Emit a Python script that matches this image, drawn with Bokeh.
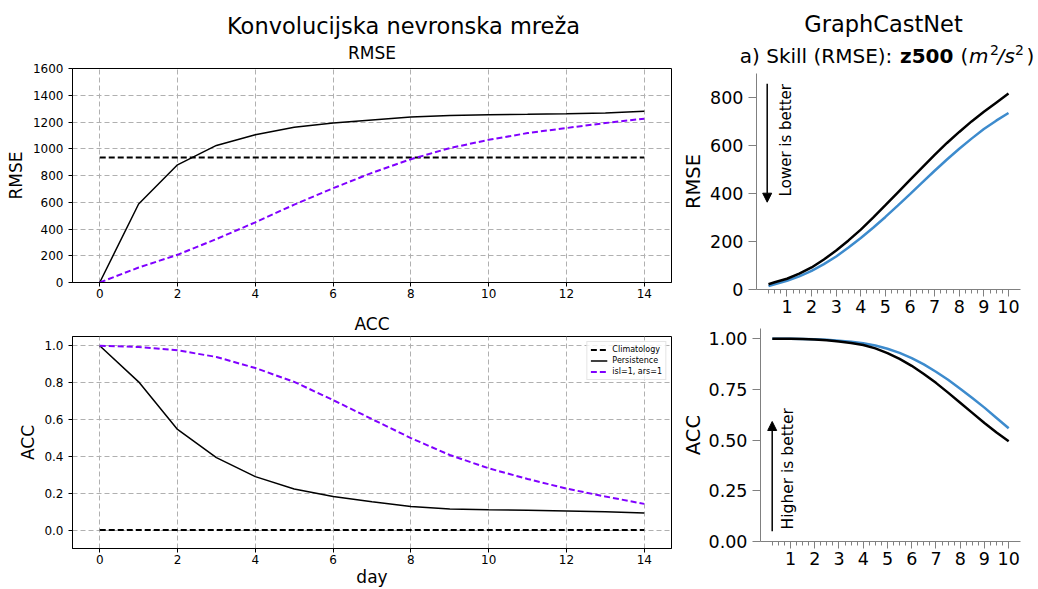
import math
from bokeh.plotting import figure
from bokeh.layouts import row, column
from bokeh.models import Range1d, FixedTicker, Label, Arrow, NormalHead, PrintfTickFormatter
from bokeh.embed import file_html
from bokeh.resources import INLINE

FONT = "DejaVu Sans"

# ---------------- data: left (CNN) ----------------
cnn_days = [0, 1, 2, 3, 4, 5, 6, 7, 8, 9, 10, 11, 12, 13, 14]
cnn_rmse_climatology = [935, 935, 935, 935, 935, 935, 935, 935, 935, 935, 935, 935, 935, 935, 935]
cnn_rmse_persistence = [0, 587, 880, 1025, 1105, 1160, 1192, 1215, 1237, 1248, 1255, 1258, 1262, 1268, 1280]
cnn_rmse_isl1_ars1 = [0, 112, 207, 325, 450, 582, 705, 820, 922, 1005, 1067, 1117, 1155, 1192, 1225]
cnn_acc_climatology = [0.0, 0.0, 0.0, 0.0, 0.0, 0.0, 0.0, 0.0, 0.0, 0.0, 0.0, 0.0, 0.0, 0.0, 0.0]
cnn_acc_persistence = [1.0, 0.804, 0.546, 0.393, 0.290, 0.223, 0.182, 0.153, 0.128, 0.114, 0.110, 0.107, 0.103, 0.099, 0.092]
cnn_acc_isl1_ars1 = [1.0, 0.993, 0.975, 0.939, 0.879, 0.804, 0.705, 0.602, 0.499, 0.407, 0.335, 0.277, 0.225, 0.182, 0.142]

cnn_xticks = [0, 2, 4, 6, 8, 10, 12, 14]
cnn_rmse_yticks = [0, 200, 400, 600, 800, 1000, 1200, 1400, 1600]
cnn_acc_yticks = [0.0, 0.2, 0.4, 0.6, 0.8, 1.0]

# ---------------- data: right (GraphCast) ----------------
gc_days = [0.25, 0.5, 1, 1.5, 2, 2.5, 3, 3.5, 4, 4.5, 5, 5.5, 6, 6.5, 7, 7.5, 8, 8.5, 9, 9.5, 10]
gc_rmse_black = [22, 30, 45, 66, 92, 125, 163, 205, 250, 300, 352, 405, 458, 510, 562, 612, 658, 702, 742, 780, 818]
gc_rmse_blue = [14, 22, 36, 55, 78, 106, 138, 175, 215, 258, 303, 350, 398, 447, 496, 543, 588, 630, 670, 705, 737]
gc_acc_black = [1.0, 1.0, 0.999, 0.998, 0.996, 0.992, 0.986, 0.979, 0.969, 0.952, 0.929, 0.900, 0.866, 0.826,
                0.782, 0.734, 0.684, 0.634, 0.584, 0.537, 0.494]
gc_acc_blue = [1.0, 1.0, 0.999, 0.998, 0.997, 0.994, 0.990, 0.985, 0.977, 0.966, 0.950, 0.930, 0.904, 0.873,
               0.837, 0.797, 0.753, 0.707, 0.660, 0.609, 0.558]

gc_xticks = [1, 2, 3, 4, 5, 6, 7, 8, 9, 10]
gc_xminor = [q / 4 for q in range(1, 41)]
gc_rmse_yticks = [0, 200, 400, 600, 800]
gc_acc_yticks = [0.0, 0.25, 0.5, 0.75, 1.0]

PURPLE = "#8000ff"
BLUE = "#3d8bcd"
GREY = "#808080"

# ranges
L_XR = (-0.7, 14.7)
TL_YR = (0, 1600)
BL_YR = (-0.1, 1.05)
R_XR = (-0.2375, 10.4875)
TR_YR = (0, 902)
BR_YR = (0, 1.05)


def no_align(p):
    if "frame_align" in p.properties():
        p.frame_align = False
    return p


def base_fig(w, h, xr, yr, bl, br, bt, bb):
    p = figure(width=w, height=h, x_range=Range1d(*xr), y_range=Range1d(*yr),
               output_backend="svg", toolbar_location=None, title=None,
               min_border_left=bl, min_border_right=br, min_border_top=bt, min_border_bottom=bb)
    p.background_fill_color = "white"
    p.border_fill_color = "white"
    return no_align(p)


def header_fig(w, h):
    # empty panel used only to hold title texts (pixel coordinates, y downward)
    p = figure(width=w, height=h, x_range=Range1d(0, w), y_range=Range1d(h, 0),
               x_axis_type=None, y_axis_type=None, output_backend="svg",
               toolbar_location=None, title=None,
               min_border_left=0, min_border_right=0, min_border_top=0, min_border_bottom=0)
    p.outline_line_color = None
    p.background_fill_color = "white"
    p.border_fill_color = "white"
    p.xgrid.visible = False
    p.ygrid.visible = False
    return no_align(p)


def px(p_fw, p_fh, xr, yr, fx, fy):
    return (xr[0] + fx * (xr[1] - xr[0]) / p_fw, yr[0] + fy * (yr[1] - yr[0]) / p_fh)


def add_label(p, text, x, y, size, style="normal", align="center", baseline="middle", angle=0.0):
    p.add_layout(Label(x=x, y=y, text=text, text_font=FONT, text_font_size=f"{size}px",
                       text_font_style=style, text_align=align, text_baseline=baseline,
                       angle=angle, text_color="black"))


def add_title_text(p, text, x, y_base, size, style="normal", align="center"):
    # y_base: wanted baseline (pixels from top); label is centred on its text box
    add_label(p, text, x, y_base - 0.346 * size, size, style=style, align=align, baseline="middle")


def style_left(p, yticks, yfmt, ylabel, xlabel=None, ystand=4):
    p.outline_line_color = "black"
    p.outline_line_width = 1
    for ax in (p.xaxis[0], p.yaxis[0]):
        ax.axis_line_color = "black"
        ax.major_tick_line_color = "black"
        ax.major_tick_out = 4
        ax.major_tick_in = 0
        ax.minor_tick_line_color = None
        ax.major_label_text_font = FONT
        ax.major_label_text_font_size = "12px"
        ax.major_label_text_color = "black"
        ax.axis_label_text_font = FONT
        ax.axis_label_text_font_size = "17px"
        ax.axis_label_text_font_style = "normal"
        ax.axis_label_text_color = "black"
    p.xaxis.ticker = FixedTicker(ticks=cnn_xticks)
    p.yaxis.ticker = FixedTicker(ticks=yticks)
    if yfmt:
        p.yaxis.formatter = PrintfTickFormatter(format=yfmt)
    p.xaxis.major_label_standoff = 2
    p.yaxis.major_label_standoff = 5
    p.yaxis.axis_label = ylabel
    p.yaxis.axis_label_standoff = ystand
    if xlabel:
        p.xaxis.axis_label = xlabel
        p.xaxis.axis_label_standoff = 0
    for g in (p.xgrid, p.ygrid):
        g.grid_line_color = "#b0b0b0"
        g.grid_line_dash = "5 3"
        g.grid_line_width = 1


def style_right(p, yticks, yfmt, ylabel, ystand):
    p.outline_line_color = None
    p.xgrid.visible = False
    p.ygrid.visible = False
    for ax in (p.xaxis[0], p.yaxis[0]):
        ax.axis_line_color = GREY
        ax.axis_line_width = 1
        ax.major_tick_line_color = GREY
        ax.minor_tick_line_color = GREY
        ax.major_tick_in = 0
        ax.minor_tick_in = 0
        ax.major_label_text_font = FONT
        ax.major_label_text_font_size = "17.5px"
        ax.major_label_text_color = "black"
        ax.axis_label_text_font = FONT
        ax.axis_label_text_font_size = "19.5px"
        ax.axis_label_text_font_style = "normal"
        ax.axis_label_text_color = "black"
    p.xaxis.ticker = FixedTicker(ticks=gc_xticks, minor_ticks=gc_xminor)
    p.xaxis.major_tick_out = 7
    p.xaxis.minor_tick_out = 4
    p.xaxis.major_label_standoff = 3
    p.yaxis.ticker = FixedTicker(ticks=yticks)
    p.yaxis.minor_tick_line_color = None
    p.yaxis.major_tick_out = 8
    p.yaxis.major_label_standoff = 5
    if yfmt:
        p.yaxis.formatter = PrintfTickFormatter(format=yfmt)
    p.yaxis.axis_label = ylabel
    p.yaxis.axis_label_standoff = ystand


LW, RW = 676, 362

# ---------------- left header ----------------
hdr_l = header_fig(LW, 63)
add_title_text(hdr_l, "Konvolucijska nevronska mreža", 403, 33, 22.5)
add_title_text(hdr_l, "RMSE", 371.5, 58.5, 17)

# ---------------- top-left: RMSE ----------------
TL_H, TL_BL, TL_BR, TL_BT, TL_BB = 243, 72, 5, 5, 24
tl = base_fig(LW, TL_H, L_XR, TL_YR, TL_BL, TL_BR, TL_BT, TL_BB)
style_left(tl, cnn_rmse_yticks, None, "RMSE", ystand=4)
tl.line(cnn_days, cnn_rmse_climatology, color="black", line_width=2, line_dash="6 3")
tl.line(cnn_days, cnn_rmse_persistence, color="black", line_width=1.5)
tl.line(cnn_days, cnn_rmse_isl1_ars1, color=PURPLE, line_width=2, line_dash="6 3")

# ---------------- ACC header ----------------
hdr_acc = header_fig(LW, 29)
add_title_text(hdr_acc, "ACC", 371.5, 23, 17)

# ---------------- bottom-left: ACC ----------------
BL_H, BL_BL, BL_BR, BL_BT, BL_BB = 254, 72, 5, 1, 40
bl = base_fig(LW, BL_H, L_XR, BL_YR, BL_BL, BL_BR, BL_BT, BL_BB)
style_left(bl, cnn_acc_yticks, "%.1f", "ACC", xlabel="day", ystand=3)
bl.line(cnn_days, cnn_acc_climatology, color="black", line_width=2, line_dash="6 3", legend_label="Climatology")
bl.line(cnn_days, cnn_acc_persistence, color="black", line_width=1.5, legend_label="Persistence")
bl.line(cnn_days, cnn_acc_isl1_ars1, color=PURPLE, line_width=2, line_dash="6 3", legend_label="isl=1, ars=1")
bl.legend.location = "top_right"
bl.legend.label_text_font = FONT
bl.legend.label_text_font_size = "8px"
bl.legend.label_text_color = "black"
bl.legend.glyph_width = 17
bl.legend.glyph_height = 9
bl.legend.label_height = 9
bl.legend.label_standoff = 5
bl.legend.spacing = 2
bl.legend.padding = 3
bl.legend.margin = 5
bl.legend.border_line_color = "#cccccc"
bl.legend.border_line_width = 1
bl.legend.background_fill_alpha = 0.8

# ---------------- right header ----------------
hdr_r = header_fig(RW, 73)
add_title_text(hdr_r, "GraphCastNet", 883 - LW, 31.7, 22.5)
# a) Skill (RMSE): z500 (m²/s²) -- composed of pieces placed at page x
sub_pieces = [
    ("a) Skill (RMSE): ", "normal", 20, 739.3, 62),
    ("z500", "bold", 20, 899.5, 62),
    ("(", "normal", 20, 960.0, 62),
    ("m", "italic", 20, 968.5, 62),
    ("2", "normal", 14, 989.5, 54.5),
    ("/", "italic", 20, 997.0, 62),
    ("s", "italic", 20, 1004.0, 62),
    ("2", "normal", 14, 1014.5, 54.5),
    (")", "normal", 20, 1026.0, 62),
]
for txt, sty, size, x_page, y_page in sub_pieces:
    add_title_text(hdr_r, txt, x_page - LW, y_page, size, style=sty, align="left")

# ---------------- top-right: GraphCast RMSE ----------------
TR_H, TR_BL, TR_BR, TR_BT, TR_BB = 249, 80, 18, 0, 33
tr = base_fig(RW, TR_H, R_XR, TR_YR, TR_BL, TR_BR, TR_BT, TR_BB)
style_right(tr, gc_rmse_yticks, None, "RMSE", 2)
tr.line(gc_days, gc_rmse_blue, color=BLUE, line_width=2.5)
tr.line(gc_days, gc_rmse_black, color="black", line_width=2.5)
tr_fw, tr_fh = RW - TR_BL - TR_BR, TR_H - TR_BT - TR_BB
ax0, ay0 = px(tr_fw, tr_fh, R_XR, TR_YR, 10.7, 205.7)
ax1, ay1 = px(tr_fw, tr_fh, R_XR, TR_YR, 10.7, 87.3)
tr.add_layout(Arrow(end=NormalHead(size=9, fill_color="black", line_color="black"),
                    x_start=ax0, y_start=ay0, x_end=ax1, y_end=ay1, line_width=1.5, line_color="black"))
x, y = px(tr_fw, tr_fh, R_XR, TR_YR, 29, 149.3)
add_label(tr, "Lower is better", x, y, 15, angle=math.pi / 2)

# ---------------- bottom-right: GraphCast ACC ----------------
BR_H, BR_BL, BR_BR, BR_BT, BR_BB = 267, 84, 18, 6, 48
br = base_fig(RW, BR_H, R_XR, BR_YR, BR_BL, BR_BR, BR_BT, BR_BB)
style_right(br, gc_acc_yticks, "%.2f", "ACC", 1)
br.line(gc_days, gc_acc_blue, color=BLUE, line_width=2.5)
br.line(gc_days, gc_acc_black, color="black", line_width=2.5)
br_fw, br_fh = RW - BR_BL - BR_BR, BR_H - BR_BT - BR_BB
ax0, ay0 = px(br_fw, br_fh, R_XR, BR_YR, 11.7, 10.3)
ax1, ay1 = px(br_fw, br_fh, R_XR, BR_YR, 11.7, 120)
br.add_layout(Arrow(end=NormalHead(size=9, fill_color="black", line_color="black"),
                    x_start=ax0, y_start=ay0, x_end=ax1, y_end=ay1, line_width=1.5, line_color="black"))
x, y = px(br_fw, br_fh, R_XR, BR_YR, 27.5, 72.7)
add_label(br, "Higher is better", x, y, 15.5, angle=math.pi / 2)

layout = row(column(hdr_l, tl, hdr_acc, bl), column(hdr_r, tr, br))
open("out.html", "w").write(file_html(layout, INLINE))
